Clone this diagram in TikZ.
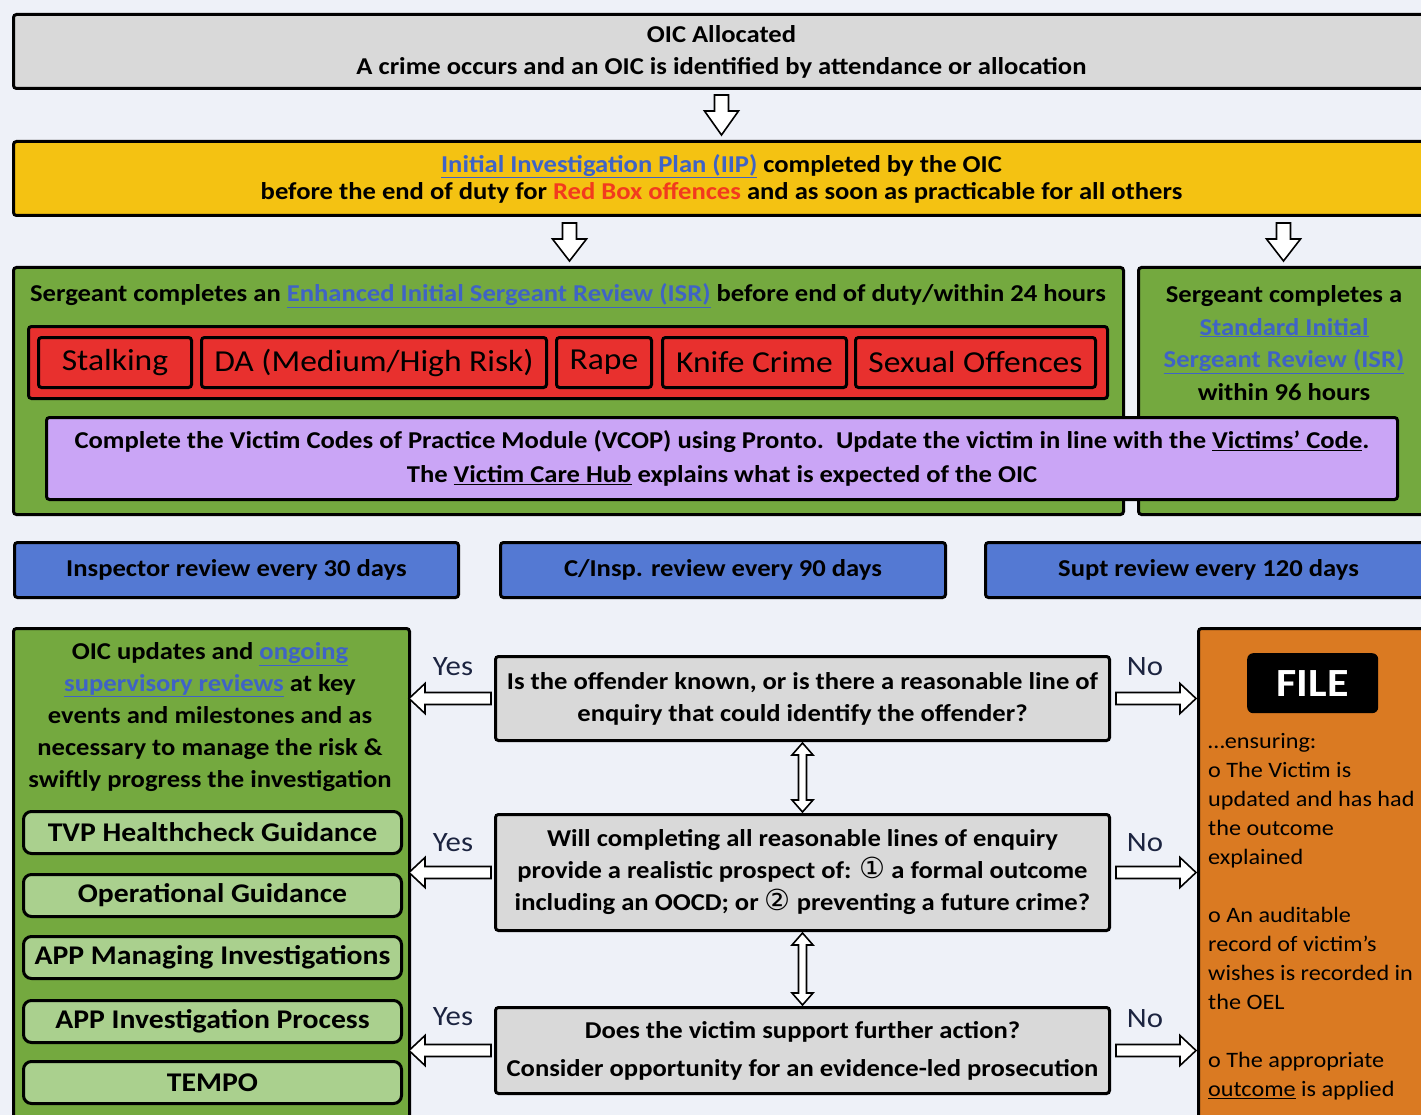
\documentclass[tikz,border=0pt]{standalone}
\usepackage{fontspec}
\setmainfont{Carlito}[FakeStretch=1.1]
\newfontfamily\symf{DejaVu Sans}
\usetikzlibrary{calc}
\definecolor{bgc}{HTML}{EEF1F8}
\definecolor{grayc}{HTML}{D9D9D9}
\definecolor{yellowc}{HTML}{F4C212}
\definecolor{greenc}{HTML}{74A93F}
\definecolor{redc}{HTML}{E8302E}
\definecolor{purplec}{HTML}{CAA5F6}
\definecolor{bluec}{HTML}{5479D3}
\definecolor{lgreenc}{HTML}{AAD08E}
\definecolor{orangec}{HTML}{DA7A22}
\definecolor{linkc}{HTML}{3F63C6}
\definecolor{redtxt}{HTML}{F23A1E}
\definecolor{labc}{HTML}{1C2440}
\newcommand\barrow[5]{%
  \coordinate (baB) at ($(#2)!#5!(#1)$);
  \draw[blockarr] ($(#1)!#3!90:(#2)$) -- ($(baB)!#3!90:(#2)$) -- ($(baB)!#4!90:(#2)$) -- (#2)
    -- ($(baB)!#4!-90:(#2)$) -- ($(baB)!#3!-90:(#2)$) -- ($(#1)!#3!-90:(#2)$) -- cycle;}
\newcommand\dbarrow[5]{%
  \coordinate (baA) at ($(#1)!#5!(#2)$);
  \coordinate (baB) at ($(#2)!#5!(#1)$);
  \draw[blockarr] (#1) -- ($(baA)!#4!90:(#2)$) -- ($(baA)!#3!90:(#2)$) -- ($(baB)!#3!90:(#2)$) -- ($(baB)!#4!90:(#2)$) -- (#2)
    -- ($(baB)!#4!-90:(#2)$) -- ($(baB)!#3!-90:(#2)$) -- ($(baA)!#3!-90:(#2)$) -- ($(baA)!#4!-90:(#2)$) -- cycle;}
\newcommand\lnk[1]{\textcolor{linkc}{\underline{#1}}}
\newcommand\circnum[1]{{\symf\mdseries\fontsize{29}{29}\selectfont #1}}
\tikzset{
  box/.style={draw=black, line width=3pt, rounded corners=3pt, inner sep=0pt, anchor=north west, align=center},
  f22/.style={font=\fontsize{24.2}{32}\selectfont\bfseries, align=center},
  redbox/.style={box, fill=redc, minimum height=50pt, font=\fontsize{30.5}{30}\selectfont},
  lgbox/.style={box, fill=lgreenc, rounded corners=8pt, minimum width=378pt, minimum height=42pt, font=\fontsize{27}{27}\selectfont\bfseries},
  bluebox/.style={box, fill=bluec, minimum height=55pt, font=\fontsize{24.2}{24}\selectfont\bfseries},
  qbox/.style={box, fill=grayc, minimum width=614pt, font=\fontsize{24.2}{32}\selectfont\bfseries},
  blockarr/.style={draw=black, fill=white, line width=1.6pt, line join=miter},
  lab/.style={font=\fontsize{28}{28}\selectfont, text=labc},
}
\begin{document}
\begin{tikzpicture}[x=1pt,y=-1pt]
\useasboundingbox (0,0) rectangle (1421,1115);
\clip (0,0) rectangle (1421,1115);
\fill[bgc] (0,0) rectangle (1421,1115);

% top boxes
\node[box, fill=grayc, minimum width=1416pt, minimum height=74pt, font=\fontsize{24.2}{32}\selectfont\bfseries] (oic) at (12,13)
  {OIC Allocated\\A crime occurs and an OIC is identified by attendance or allocation};
\node[box, fill=yellowc, minimum width=1416pt, minimum height=74pt, font=\fontsize{24.2}{27}\selectfont\bfseries] (iip) at (12,140)
  {\lnk{Initial Investigation Plan (IIP)} completed by the OIC\\before the end of duty for \textcolor{redtxt}{Red Box offences} and as soon as practicable for all others};

% sergeant reviews
\node[box, fill=greenc, minimum width=1110pt, minimum height=247pt] (gL) at (12,266) {};
\node[box, fill=greenc, minimum width=300pt, minimum height=247pt] (gR) at (1137,266) {};
\node[f22] (sgtL) at (568,296) {Sergeant completes an \lnk{Enhanced Initial Sergeant Review (ISR)} before end of duty/within 24 hours};
\node[font=\fontsize{24.2}{32.7}\selectfont\bfseries, align=center] (sgtR) at (1284,343)
  {Sergeant completes a\\\lnk{Standard Initial}\\\lnk{Sergeant Review (ISR)}\\within 96 hours};
\node[box, fill=redc, minimum width=1079pt, minimum height=72pt] (redc) at (27,325) {};
\node[redbox, minimum width=153pt] (r1) at (37,336) {Stalking};
\node[redbox, minimum width=345pt] (r2) at (200,336) {DA (Medium/High Risk)};
\node[redbox, minimum width=95pt] (r3) at (555,336) {Rape};
\node[redbox, minimum width=184pt] (r4) at (661,336) {Knife Crime};
\node[redbox, minimum width=240pt] (r5) at (854,336) {Sexual Offences};
\node[box, fill=purplec, minimum width=1351pt, minimum height=82pt, font=\fontsize{24.2}{34}\selectfont\bfseries] (vcop) at (45,416)
  {Complete the Victim Codes of Practice Module (VCOP) using Pronto.\ \ Update the victim in line with the \underline{Victims’ Code}.\\The \underline{Victim Care Hub} explains what is expected of the OIC};

% review boxes
\node[bluebox, minimum width=444pt] (b1) at (13,541) {Inspector review every 30 days};
\node[bluebox, minimum width=445pt] (b2) at (499,541) {C/Insp. review every 90 days};
\node[bluebox, minimum width=446pt] (b3) at (984,541) {Supt review every 120 days};

% left green column
\node[box, fill=greenc, minimum width=396pt, minimum height=520pt] (lg) at (12,627) {};
\node[f22] (lgt) at (210,717) {OIC updates and \lnk{ongoing}\\\lnk{supervisory reviews} at key\\events and milestones and as\\necessary to manage the risk \&\\swiftly progress the investigation};
\node[lgbox] (l1) at (22,810) {TVP Healthcheck Guidance};
\node[lgbox] (l2) at (22,873) {Operational Guidance};
\node[lgbox] (l3) at (22,935) {APP Managing Investigations};
\node[lgbox] (l4) at (22,999) {APP Investigation Process};
\node[lgbox] (l5) at (22,1060) {TEMPO};

% questions
\node[qbox, minimum height=84pt] (q1) at (494,655) {Is the offender known, or is there a reasonable line of\\enquiry that could identify the offender?};
\node[qbox, minimum height=116pt] (q2) at (494,813) {Will completing all reasonable lines of enquiry\\provide a realistic prospect of: \circnum{①} a formal outcome\\including an OOCD; or \circnum{②} preventing a future crime?};
\node[qbox, minimum height=86pt] (q3) at (494,1006) {Does the victim support further action?\\[6pt]Consider opportunity for an evidence-led prosecution};

% file column
\node[box, fill=orangec, minimum width=250pt, minimum height=520pt] (org) at (1197,627) {};
\node[fill=black, rounded corners=6pt, minimum width=131pt, minimum height=60pt, anchor=north west, text=white, font=\fontsize{40}{40}\selectfont\bfseries] (file) at (1247,653) {FILE};
\node[anchor=north west, inner sep=0pt, align=left, font=\fontsize{22}{29}\selectfont] (ftxt) at (1208,733)
  {…ensuring:\\o The Victim is\\updated and has had\\the outcome\\explained\\[29pt]o An auditable\\record of victim’s\\wishes is recorded in\\the OEL\\[29pt]o The appropriate\\\underline{outcome} is applied};

% labels
\node[lab] (y1) at (453,667) {Yes};
\node[lab] (y2) at (453,843) {Yes};
\node[lab] (y3) at (453,1017) {Yes};
\node[lab] (n1) at (1145,667) {No};
\node[lab] (n2) at (1145,843) {No};
\node[lab] (n3) at (1145,1019) {No};

% arrows down
\coordinate (d1a) at ($(oic.south)+(0,5)$);
\coordinate (d1b) at ($(iip.north)+(0,-5)$);
\barrow{d1a}{d1b}{7pt}{17pt}{24pt}
\coordinate (d2a) at ($(iip.south)+(-152,6)$);
\coordinate (d2b) at ($(gL.north)+(1,-5)$);
\barrow{d2a}{d2b}{7pt}{17pt}{22pt}
\coordinate (d3a) at ($(iip.south)+(562,6)$);
\coordinate (d3b) at ($(gR.north)+(-5,-5)$);
\barrow{d3a}{d3b}{7pt}{17pt}{22pt}

% yes / no arrows
\foreach \q in {q1,q2,q3}{
  \coordinate (ya) at ($(\q.west)+(-3,0)$);
  \coordinate (yb) at ($(\q.west)+(-85,0)$);
  \barrow{ya}{yb}{6pt}{15pt}{16pt}
  \coordinate (na) at ($(\q.east)+(5,0)$);
  \coordinate (nb) at ($(\q.east)+(85,0)$);
  \barrow{na}{nb}{6pt}{15pt}{16pt}
}

% double arrows
\coordinate (v1a) at ($(q1.south)+(0,1)$);
\coordinate (v1b) at ($(q2.north)+(0,-1)$);
\dbarrow{v1a}{v1b}{4pt}{10.5pt}{12pt}
\coordinate (v2a) at ($(q2.south)+(0,1)$);
\coordinate (v2b) at ($(q3.north)+(0,-1)$);
\dbarrow{v2a}{v2b}{4pt}{10.5pt}{12pt}
\end{tikzpicture}
\end{document}
